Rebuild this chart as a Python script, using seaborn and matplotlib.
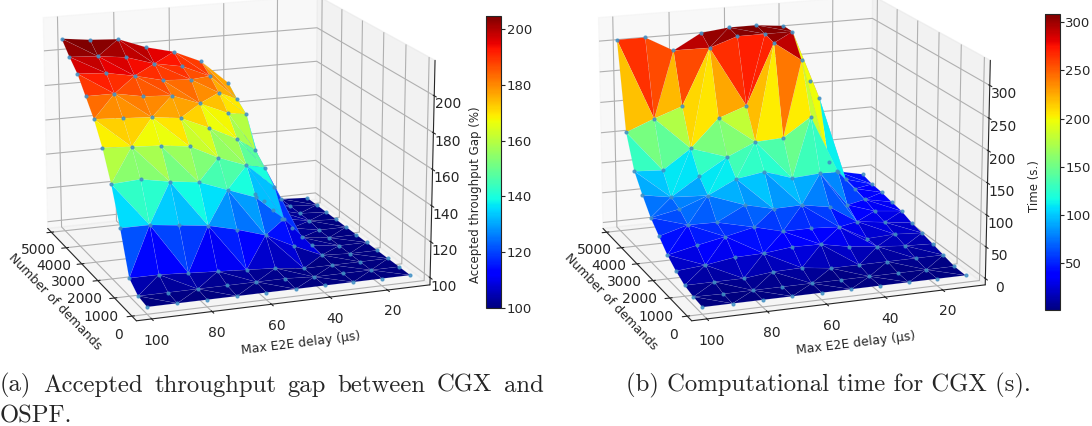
import numpy as np
import seaborn as sns
import matplotlib
matplotlib.use("Agg")
import matplotlib.pyplot as plt

# demands run front to back, delays left to right
demands = [0, 500, 1000, 1500, 2000, 2500, 3000, 3500, 4000, 4500, 5000]
delays = [100, 90, 80, 70, 60, 50, 40, 30, 20, 10]

# one row per demand value, one column per delay value
gap_rows = [
    [100, 100, 100, 100, 100, 100, 100, 100, 100, 100],
    [101, 101, 101, 101, 101, 101, 100, 100, 100, 100],
    [106, 106, 105, 104, 103, 102, 100, 100, 100, 100],
    [129, 129, 127, 125, 121, 116, 108, 101, 100, 100],
    [149, 150, 147, 145, 139, 133, 119, 102, 100, 100],
    [165, 164, 163, 161, 153, 147, 133, 102, 100, 100],
    [177, 176, 175, 173, 166, 158, 140, 103, 100, 100],
    [186, 186, 183, 182, 176, 169, 146, 104, 101, 100],
    [195, 194, 191, 187, 186, 177, 163, 105, 101, 100],
    [201, 200, 198, 193, 190, 183, 168, 106, 101, 100],
    [208, 206, 205, 199, 195, 188, 174, 106, 101, 100],
]
time_rows = [
    [1, 1, 1, 1, 1, 1, 1, 1, 1, 1],
    [3, 2, 2, 2, 2, 2, 2, 2, 2, 2],
    [7, 7, 7, 12, 13, 7, 7, 7, 7, 7],
    [16, 20, 27, 28, 33, 32, 23, 18, 14, 12],
    [28, 38, 47, 57, 45, 45, 42, 18, 20, 17],
    [45, 58, 57, 80, 69, 70, 62, 33, 27, 21],
    [62, 71, 88, 110, 117, 102, 105, 48, 33, 28],
    [86, 78, 107, 134, 154, 156, 186, 91, 40, 31],
    [113, 110, 141, 186, 202, 300, 268, 96, 46, 35],
    [165, 183, 199, 290, 305, 305, 305, 191, 50, 37],
    [305, 305, 280, 305, 310, 310, 305, 210, 52, 42],
]

gap_ticks = [100, 120, 140, 160, 180, 200]
time_ticks = [0, 50, 100, 150, 200, 250, 300]
gap_cbar_ticks = [100, 120, 140, 160, 180, 200]
time_cbar_ticks = [50, 100, 150, 200, 250, 300]
demand_ticks = [0, 1000, 2000, 3000, 4000, 5000]
delay_ticks = [20, 40, 60, 80, 100]

caption_a_words = ["(a)", "Accepted", "throughput", "gap", "between", "CGX", "and"]


def draw_surface(fig, ax_rect, cax_rect, rows, zticks, cbar_ticks, zlim, label, label_y):
    ax = fig.add_axes(ax_rect, projection="3d", computed_zorder=False)
    yy, xx = np.meshgrid(delays, demands)
    x = xx.ravel()
    y = yy.ravel()
    z = np.array(rows, dtype=float).ravel()

    surf = ax.plot_trisurf(
        x, y, z, cmap="jet",
        linewidth=0.3, edgecolor=(0.8, 0.85, 1.0, 0.2), antialiased=True,
    )
    ax.scatter(x, y, z, s=4, color="#3f8fc4", alpha=0.8, depthshade=False)

    ax.view_init(elev=16, azim=160)
    ax.set_xlim(-250, 5250)
    ax.set_ylim(5, 105)
    ax.set_zlim(*zlim)
    ax.set_xticks(demand_ticks)
    ax.set_yticks(delay_ticks)
    ax.set_zticks(zticks)
    ax.tick_params(labelsize=10, pad=0)
    ax.tick_params(axis="z", pad=-2)
    ax.set_xlabel("Number of demands", fontsize=9, labelpad=0)
    ax.set_ylabel("Max E2E delay (µs)", fontsize=9, labelpad=1)

    cax = fig.add_axes(cax_rect)
    cbar = fig.colorbar(surf, cax=cax, ticks=cbar_ticks)
    cbar.ax.tick_params(labelsize=9.5, length=3, pad=1)
    cbar.ax.yaxis.set_label_position("left")
    cbar.set_label(label, fontsize=8.5, labelpad=3, y=label_y)
    return ax


def justified_line(fig, words, x0, x1, y, size):
    # the caption is set justified, so spread the words between the two edges
    items = [fig.text(x0, y, w, family="cmr10", fontsize=size, va="baseline") for w in words]
    renderer = fig.canvas.get_renderer()
    widths = [t.get_window_extent(renderer).width / fig.bbox.width for t in items]
    gap = (x1 - x0 - sum(widths)) / (len(words) - 1)
    x = x0
    for t, w in zip(items, widths):
        t.set_x(x)
        x += w + gap


def main():
    sns.set_style("white", {"grid.color": "#b0b0b0", "font.family": ["DejaVu Sans"]})

    fig = plt.figure(figsize=(10.92, 4.26), dpi=100)

    draw_surface(
        fig, [-0.0505, 0.087, 0.515, 1.10], [0.4455, 0.277, 0.0135, 0.685],
        gap_rows, gap_ticks, gap_cbar_ticks, (96, 219),
        "Accepted throughput Gap (%)", 0.39,
    )
    draw_surface(
        fig, [0.458, 0.087, 0.515, 1.10], [0.957, 0.272, 0.0135, 0.695],
        time_rows, time_ticks, time_cbar_ticks, (-10, 338),
        "Time (s.)", 0.42,
    )

    justified_line(fig, caption_a_words, 0.0, 0.498, 0.08, 17.8)
    fig.text(0.0, 0.008, "OSPF.", family="cmr10", fontsize=17.8, va="baseline")
    fig.text(0.573, 0.08, "(b) Computational time for CGX (s).",
             family="cmr10", fontsize=17.8, va="baseline")

    fig.savefig("out.png", dpi=fig.dpi)
    plt.close(fig)


if __name__ == "__main__":
    main()
